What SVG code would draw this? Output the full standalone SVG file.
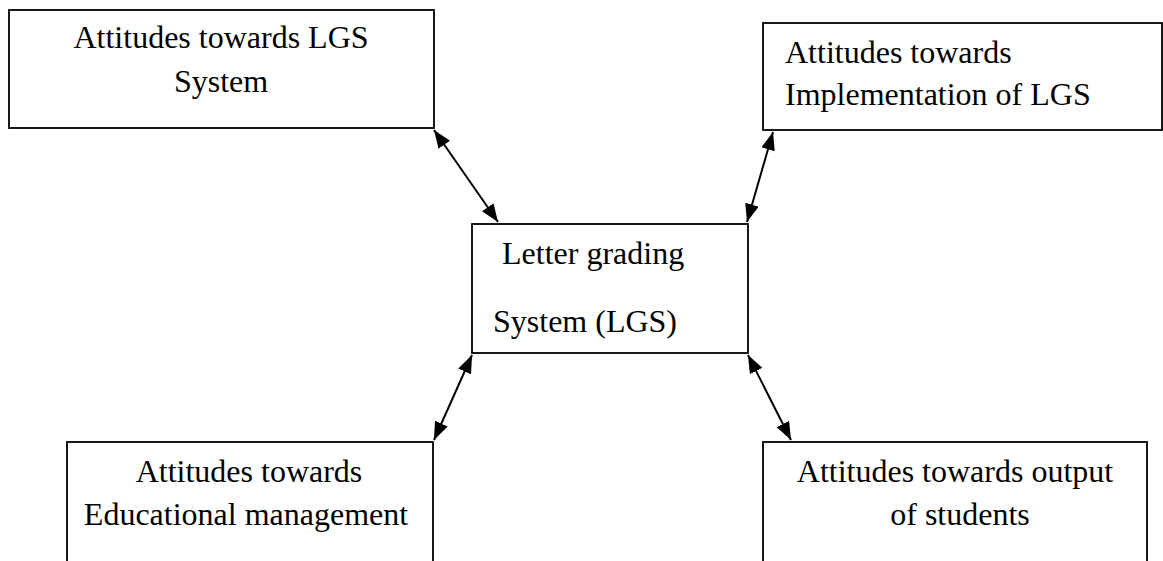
<svg xmlns="http://www.w3.org/2000/svg" width="1163" height="561" viewBox="0 0 1163 561">
<style>
.box{fill:#fff;stroke:#000;stroke-width:1.8}
text{font-family:'Liberation Serif','Times New Roman','DejaVu Serif',serif;font-size:32px;fill:#000}
.c{text-anchor:middle}
.con{stroke:#000;stroke-width:2;fill:none;marker-start:url(#ah);marker-end:url(#ah)}
</style>
<defs>
<marker id="ah" viewBox="0 0 10 10" refX="10" refY="5" markerWidth="9" markerHeight="7" markerUnits="strokeWidth" orient="auto-start-reverse" preserveAspectRatio="none">
<path d="M0,0 L10,5 L0,10 z" fill="#000"/>
</marker>
</defs>
<rect width="1163" height="561" fill="#fff"/>
<g id="n1">
<rect class="box" x="9" y="10" width="425" height="118"/>
<text class="c" x="221" y="48">Attitudes towards LGS</text>
<text class="c" x="221" y="92">System</text>
</g>
<g id="n2">
<rect class="box" x="763" y="23" width="399" height="107"/>
<text x="785" y="63">Attitudes towards</text>
<text x="785" y="105">Implementation of LGS</text>
</g>
<g id="center">
<rect class="box" x="472" y="224" width="276" height="129"/>
<text x="502" y="264">Letter grading</text>
<text x="493" y="332">System (LGS)</text>
</g>
<g id="n3">
<rect class="box" x="67" y="442" width="366" height="130"/>
<text class="c" x="249" y="482">Attitudes towards</text>
<text class="c" x="246" y="525">Educational management</text>
</g>
<g id="n4">
<rect class="box" x="763" y="442" width="384" height="130"/>
<text class="c" x="955" y="482">Attitudes towards output</text>
<text class="c" x="960" y="525">of students</text>
</g>
<g id="connectors">
<line class="con" x1="434" y1="130" x2="498" y2="222"/>
<line class="con" x1="773" y1="132" x2="747" y2="222"/>
<line class="con" x1="472" y1="355" x2="434" y2="440"/>
<line class="con" x1="748" y1="355" x2="791" y2="440"/>
</g>
</svg>
